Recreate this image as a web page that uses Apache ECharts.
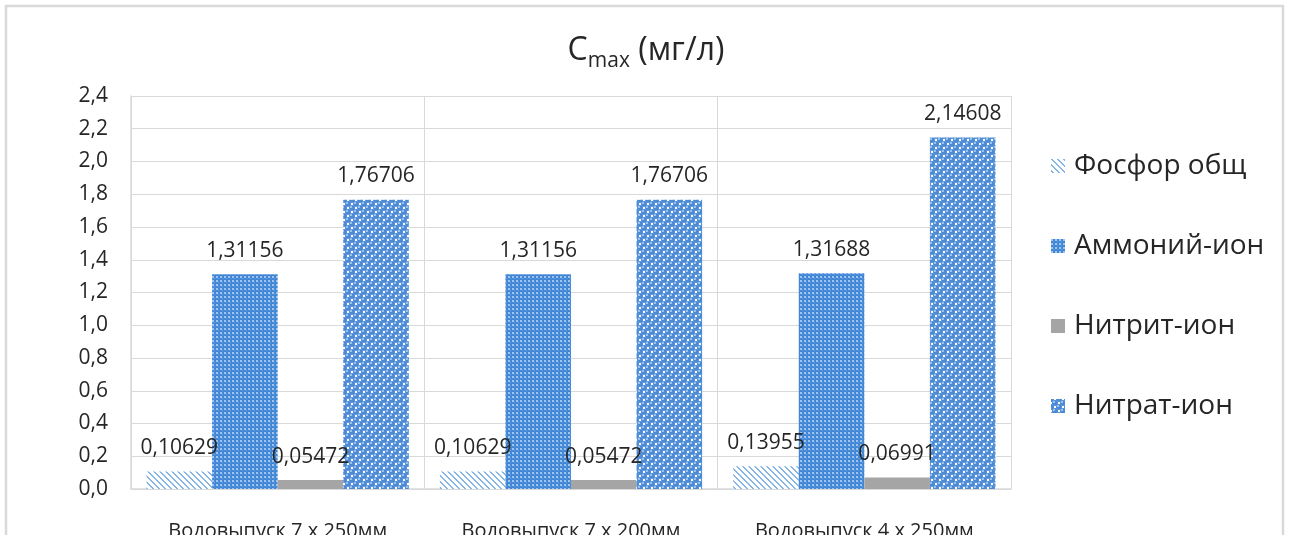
<!DOCTYPE html>
<html>
<head>
<meta charset="utf-8">
<script src="https://cdn.jsdelivr.net/npm/echarts@6/dist/echarts.min.js"></script>
<style>
html,body{margin:0;padding:0;background:#fff;}
#chart{width:1292px;height:535px;}
</style>
</head>
<body>
<div id="chart"></div>
<script>
const categories = ['Водовыпуск 7 x 250мм', 'Водовыпуск 7 x 200мм', 'Водовыпуск 4 x 250мм'];
const seriesNames = ['Фосфор общ', 'Аммоний-ион', 'Нитрит-ион', 'Нитрат-ион'];
const phosphorus = [0.10629, 0.10629, 0.13955];
const ammonium = [1.31156, 1.31156, 1.31688];
const nitrite = [0.05472, 0.05472, 0.06991];
const nitrate = [1.76706, 1.76706, 2.14608];
const yTicks = {min: 0, max: 2.4, interval: 0.2};

function makeCanvas(w, h) {
  const c = document.createElement('canvas');
  c.width = w; c.height = h;
  return c;
}
function stripePattern() {
  const n = 6;
  const c = makeCanvas(n, n);
  const ctx = c.getContext('2d');
  ctx.fillStyle = '#ffffff';
  ctx.fillRect(0, 0, n, n);
  ctx.fillStyle = '#86b6e6';
  for (let y = 0; y < n; y++) {
    for (let x = 0; x < n; x++) {
      if ((((x - y) % n) + n) % n < 2) ctx.fillRect(x, y, 1, 1);
    }
  }
  return c;
}
function checkerPattern() {
  const c = makeCanvas(4, 4);
  const ctx = c.getContext('2d');
  ctx.fillStyle = '#4287d6';
  ctx.fillRect(0, 0, 4, 4);
  ctx.fillStyle = '#9fc4ee';
  ctx.fillRect(0, 0, 2, 2);
  ctx.fillStyle = '#6ea2df';
  ctx.fillRect(2, 2, 1, 1);
  return c;
}
function spherePattern() {
  const n = 8;
  const c = makeCanvas(n, n);
  const ctx = c.getContext('2d');
  ctx.fillStyle = '#ffffff';
  ctx.fillRect(0, 0, n, n);
  const centers = [[4, 4], [0, 0], [8, 0], [0, 8], [8, 8]];
  centers.forEach(([cx, cy]) => {
    ctx.beginPath();
    ctx.arc(cx, cy, 3.0, 0, Math.PI * 2);
    ctx.fillStyle = '#4a8ad6';
    ctx.fill();
    ctx.beginPath();
    ctx.arc(cx - 1, cy - 1, 1, 0, Math.PI * 2);
    ctx.fillStyle = '#b9d5f3';
    ctx.fill();
  });
  return c;
}

const fills = [
  {image: stripePattern(), repeat: 'repeat'},
  {image: checkerPattern(), repeat: 'repeat'},
  '#a5a5a5',
  {image: spherePattern(), repeat: 'repeat'}
];
const seriesData = [phosphorus, ammonium, nitrite, nitrate];

const FONT = 'Open Sans';
const fmt = v => String(v).replace('.', ',');

const chart = echarts.init(document.getElementById('chart'), null, {renderer: 'canvas'});
chart.setOption({
  backgroundColor: '#ffffff',
  animation: false,
  graphic: [{
    type: 'rect',
    shape: {x: 6, y: 6, width: 1277, height: 620},
    style: {fill: 'none', stroke: '#d9d9d9', lineWidth: 2.5},
    silent: true
  }],
  title: {
    text: '{c|C}{s|max}{c| (мг/л)}',
    left: 'center',
    top: 25,
    textStyle: {
      rich: {
        c: {fontFamily: FONT, fontSize: 32, fontWeight: 'normal', color: '#262626', lineHeight: 42},
        s: {fontFamily: FONT, fontSize: 21, fontWeight: 'normal', color: '#262626', lineHeight: 22, verticalAlign: 'bottom'}
      }
    }
  },
  legend: {
    orient: 'vertical',
    left: 1046,
    top: 147,
    itemWidth: 14,
    itemHeight: 14,
    itemGap: 52,
    icon: 'rect',
    textStyle: {fontFamily: FONT, fontSize: 28, color: '#262626', padding: [0, 0, 0, 4]},
    data: seriesNames
  },
  grid: {left: 131, right: 281, top: 96, bottom: 46, outerBoundsMode: 'none'},
  xAxis: {
    type: 'category',
    data: categories,
    axisLine: {lineStyle: {color: '#d9d9d9', width: 1.5}},
    axisTick: {show: false},
    splitLine: {show: true, lineStyle: {color: '#d9d9d9', width: 1}},
    axisLabel: {fontFamily: FONT, fontSize: 20, color: '#262626', margin: 32}
  },
  yAxis: {
    type: 'value',
    min: yTicks.min,
    max: yTicks.max,
    interval: yTicks.interval,
    axisLine: {show: true, lineStyle: {color: '#d9d9d9', width: 1.5}},
    axisTick: {show: false},
    splitLine: {lineStyle: {color: '#d9d9d9', width: 1}},
    axisLabel: {
      fontFamily: FONT, fontSize: 21, color: '#262626', margin: 23,
      formatter: v => v.toFixed(1).replace('.', ',')
    }
  },
  series: seriesNames.map((name, i) => ({
    name: name,
    type: 'bar',
    data: seriesData[i],
    barGap: '0%',
    barCategoryGap: '10.6%',
    itemStyle: {color: fills[i]},
    label: {
      show: true,
      position: 'top',
      distance: 13,
      fontFamily: FONT,
      fontSize: 21,
      color: '#262626',
      formatter: p => fmt(p.value)
    }
  }))
});
</script>
</body>
</html>
